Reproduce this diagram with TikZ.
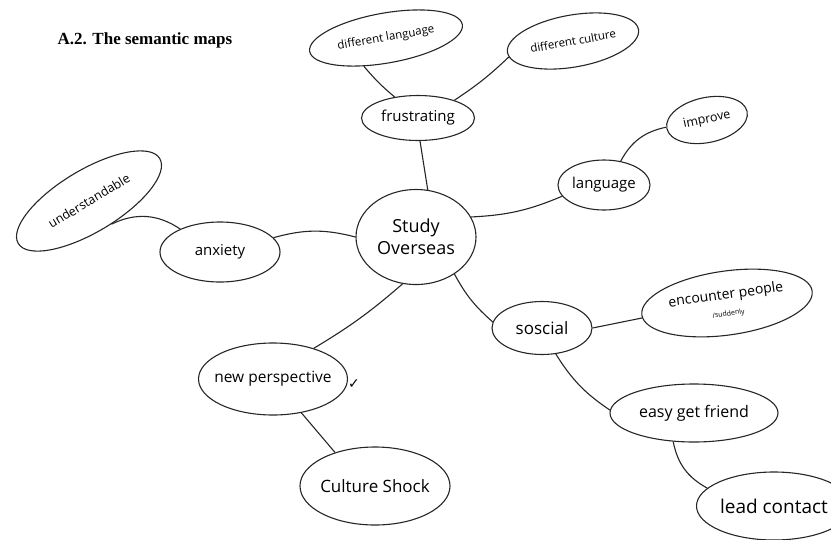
\documentclass[tikz,border=0pt]{standalone}
\usepackage{fontspec}
\setmainfont{Liberation Serif}
\newfontfamily\hand{Open Sans}
\newfontfamily\symb{DejaVu Sans}
\usetikzlibrary{shapes.geometric}
\begin{document}
\begin{tikzpicture}[x=1pt,y=-1pt,
  ell/.style={ellipse,draw=black!85,line width=1.1pt,inner xsep=-6pt,inner ysep=0pt,font=\hand\fontsize{15}{16}\selectfont},
  link/.style={draw=black!85,line width=1.1pt}]
\useasboundingbox (0,0) rectangle (831,539);
\node[font=\bfseries\fontsize{17}{19}\selectfont,anchor=west] (title) at (54,40) {A.2. The semantic maps};
% nodes
\node[ell,minimum width=155pt,minimum height=50pt,rotate=10,font=\hand\fontsize{11.5}{12}\selectfont] (dl) at (386,38) {different language};
\node[ell,minimum width=133pt,minimum height=52pt,rotate=10,font=\hand\fontsize{11.5}{12}\selectfont] (dc) at (573,41) {different culture};
\node[ell,minimum width=113pt,minimum height=45pt] (fr) at (418,118) {frustrating};
\node[ell,minimum width=92pt,minimum height=50pt] (la) at (604,185) {language};
\node[ell,minimum width=82pt,minimum height=45pt,rotate=12,font=\hand\fontsize{12.5}{13}\selectfont] (im) at (707,120) {improve};
\node[ell,minimum width=120pt,minimum height=95pt,align=center,font=\hand\fontsize{18}{22}\selectfont] (so) at (416,237) {Study\\Overseas};
\node[ell,minimum width=120pt,minimum height=60pt] (an) at (220,252) {anxiety};
\node[ell,minimum width=165pt,minimum height=62pt,rotate=31,font=\hand\fontsize{12.5}{13}\selectfont] (un) at (89,201) {understandable};
\node[ell,minimum width=100pt,minimum height=53pt,font=\hand\fontsize{17}{18}\selectfont] (sc) at (542,328) {soscial};
\node[ell,minimum width=172pt,minimum height=64pt,rotate=8,align=center,font=\hand\fontsize{14}{14}\selectfont] (en) at (727,303) {encounter people\\[3pt]{\fontsize{7}{7}\selectfont /suddenly}};
\node[ell,minimum width=168pt,minimum height=58pt,font=\hand\fontsize{16}{17}\selectfont] (ef) at (694,413) {easy get friend};
\node[ell,minimum width=155pt,minimum height=68pt,font=\hand\fontsize{19}{20}\selectfont] (lc) at (774,506) {lead contact};
\node[ell,minimum width=147pt,minimum height=72pt,font=\hand\fontsize{15.5}{16}\selectfont] (np) at (273,379) {new perspective};
\node[ell,minimum width=150pt,minimum height=78pt,font=\hand\fontsize{17}{18}\selectfont] (cs) at (375,486) {Culture Shock};
\node[font=\symb\fontsize{14}{14}\selectfont] (ck) at (354,384) {✓};
% links
\draw[link] (dl.-138) to[bend right=5] (fr.138);
\draw[link] (dc.184) to[bend left=5] (fr.26);
\draw[link] (fr.-85) -- (so.76);
\draw[link] (la.195) to[bend left=10] (so.20);
\draw[link] (im.178) to[bend right=25] (la.55);
\draw[link] (an.15) to[bend left=15] (so.180);
\draw[link] (un.-77) to[bend left=30] (an.150);
\draw[link] (so.-106) to[bend left=5] (np.37);
\draw[link] (so.-44) to[bend right=10] (sc.173);
\draw[link] (sc.0) -- (en.182);
\draw[link] (sc.-62) to[bend right=12] (ef.178);
\draw[link] (ef.-126) to[bend right=25] (lc.165);
\draw[link] (np.-50) -- (cs.140);
\end{tikzpicture}
\end{document}
